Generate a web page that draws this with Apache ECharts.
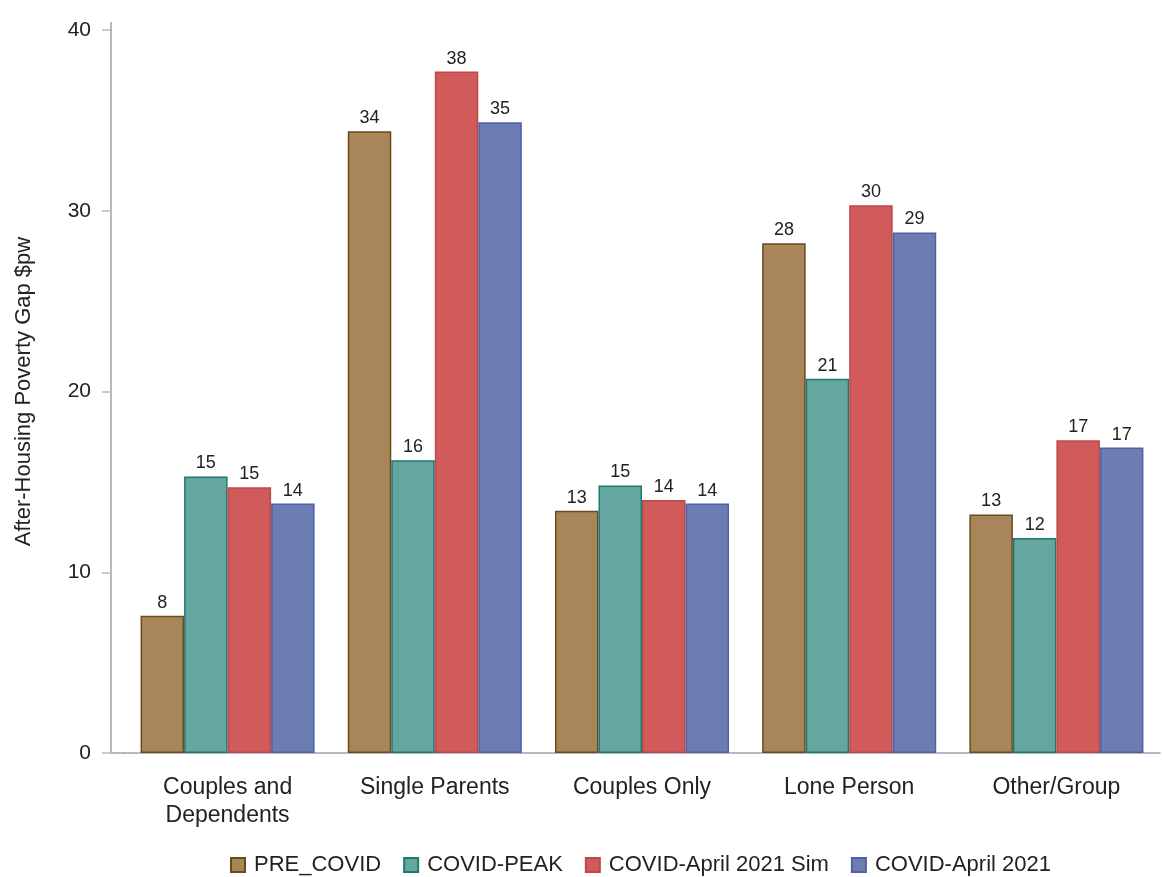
<!DOCTYPE html>
<html><head><meta charset="utf-8">
<script src="https://cdn.jsdelivr.net/npm/echarts@6/dist/echarts.min.js"></script>
<style>html,body{margin:0;padding:0;background:#fff}#c{width:1162px;height:877px}</style>
</head><body><div id="c"></div>
<script>
const categories = ['Couples and\nDependents', 'Single Parents', 'Couples Only', 'Lone Person', 'Other/Group'];
const seriesNames = ['PRE_COVID', 'COVID-PEAK', 'COVID-April 2021 Sim', 'COVID-April 2021'];
const preCovid = [7.6, 34.4, 13.4, 28.2, 13.2];
const covidPeak = [15.3, 16.2, 14.8, 20.7, 11.9];
const aprilSim = [14.7, 37.7, 14.0, 30.3, 17.3];
const april2021 = [13.8, 34.9, 13.8, 28.8, 16.9];
const yTicks = [0, 10, 20, 30, 40];

const fills = ['#A8865A', '#66A6A0', '#D15A5A', '#6C7DB4'];
const borders = ['#6B4A1E', '#1E7A70', '#C04848', '#4F60A5'];
const allData = [preCovid, covidPeak, aprilSim, april2021];
const FONT = '"Liberation Sans", Arial, sans-serif';

const chart = echarts.init(document.getElementById('c'));
chart.setOption({
  animation: false,
  textStyle: { fontFamily: FONT },
  grid: { left: 124, right: 2, top: 30, bottom: 124, containLabel: false },
  legend: {
    top: 849, left: 225, itemWidth: 14, itemHeight: 14, itemGap: 22,
    icon: 'rect',
    textStyle: { fontSize: 22, color: '#222', fontFamily: FONT, padding: [0, 0, 0, 4] },
    data: seriesNames.map((n, i) => ({ name: n, itemStyle: { color: fills[i], borderColor: borders[i], borderWidth: 2 } }))
  },
  xAxis: {
    type: 'category', data: categories,
    axisLine: { lineStyle: { color: '#A0A4A8', width: 1.5 } },
    axisTick: { alignWithLabel: true, length: 10, lineStyle: { color: '#A0A4A8' } },
    axisLabel: { fontSize: 23, color: '#222', margin: 21, lineHeight: 28, fontFamily: FONT }
  },
  yAxis: {
    type: 'value', min: 0, max: 40, interval: 10, offset: 13,
    name: 'After-Housing Poverty Gap $pw', nameLocation: 'middle', nameGap: 76,
    nameTextStyle: { fontSize: 22, color: '#222', fontFamily: FONT },
    axisLine: { show: true, lineStyle: { color: '#A0A4A8', width: 1.5 } },
    axisTick: { show: true, length: 9, lineStyle: { color: '#C8CBCE', width: 2 } },
    axisLabel: { fontSize: 21, color: '#222', margin: 20, fontFamily: FONT,
      formatter: v => yTicks.includes(v) ? String(v) : '' },
    splitLine: { show: false }
  },
  graphic: [
    { type: 'line', z: 5, shape: { x1: 111, y1: 753, x2: 125, y2: 753 }, style: { stroke: '#A0A4A8', lineWidth: 1.5 } },
    { type: 'line', z: 5, shape: { x1: 111, y1: 22, x2: 111, y2: 31 }, style: { stroke: '#A0A4A8', lineWidth: 1.5 } }
  ],
  series: seriesNames.map((n, i) => ({
    name: n, type: 'bar', data: allData[i],
    barGap: '0%', barCategoryGap: '16%',
    itemStyle: { color: fills[i], borderColor: borders[i], borderWidth: 1.5 },
    label: { show: true, position: 'top', distance: 4, fontSize: 18, color: '#222', fontFamily: FONT,
      formatter: p => Math.round(p.value) }
  }))
});
</script></body></html>
